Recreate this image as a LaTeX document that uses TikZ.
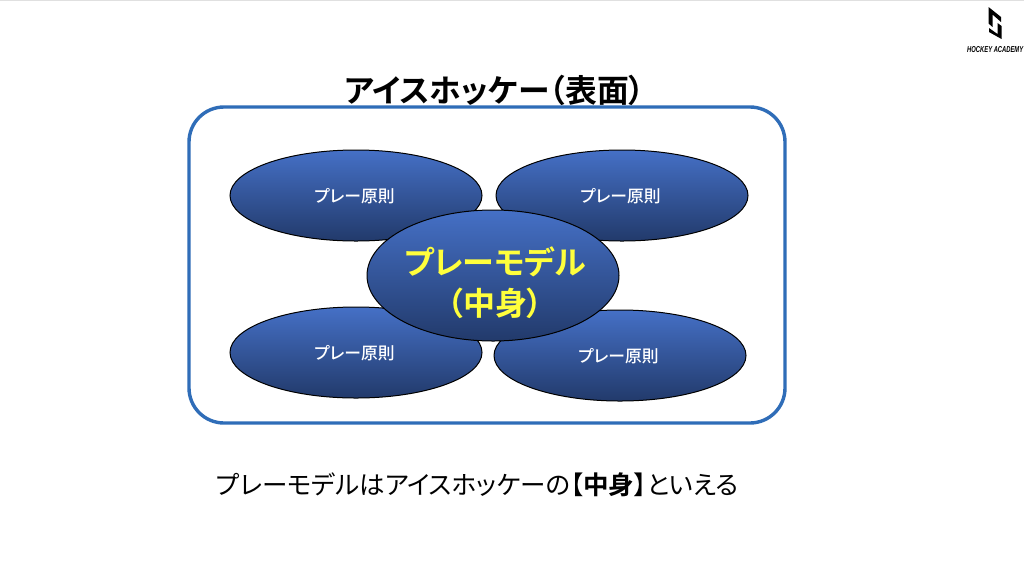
\documentclass[tikz,border=0pt]{standalone}
\usepackage{graphicx}
\usepackage{fontspec}
\setmainfont[RawFeature=+palt,BoldFont={Noto Sans CJK JP Bold}]{Noto Sans CJK JP}
\newfontfamily\medfont[RawFeature=+palt]{Noto Sans CJK JP Medium}
\newfontfamily\latinfont{Liberation Sans}
\usetikzlibrary{shapes.geometric}
\definecolor{framecol}{HTML}{2F6DB8}
\definecolor{ovaltop}{HTML}{4570C6}
\definecolor{ovalbot}{HTML}{223A6B}
\definecolor{modelyellow}{HTML}{FFFF3C}
\tikzset{
  px/.style={x=1pt,y=-1pt},
  oval/.style={ellipse,draw=black,line width=1pt,top color=ovaltop,bottom color=ovalbot,
    minimum width=252pt,minimum height=91pt,inner sep=0pt,text width=0pt,text=white,font=\medfont\fontsize{16.8}{18}\selectfont,align=center},
  bigoval/.style={oval,minimum height=131pt,text=modelyellow,font=\normalfont\bfseries\fontsize{32}{41}\selectfont},
  title/.style={inner sep=0pt,text=black,font=\bfseries\fontsize{31.8}{34}\selectfont},
  caption/.style={inner sep=0pt,text=black,font=\fontsize{25.5}{28}\selectfont},
  logotext/.style={inner sep=0pt,text=black,font=\latinfont\selectfont\bfseries\itshape}
}
\newcommand{\smalllabel}{\rule{0pt}{15pt}\hbox to 0pt{\hss プレー原則\hss\kern3pt}}
\begin{document}
\begin{tikzpicture}[px]
\useasboundingbox (0,0) rectangle (1024,574);
\fill[white] (0,0) rectangle (1024,574);
\draw[black!12,line width=0.6pt] (0,0.3) -- (1024,0.3);
\node[title] (titlenode) at (494.5,90) {アイスホッケー（表面）};
\node[draw=framecol,line width=3.4pt,rounded corners=35pt,minimum width=596pt,minimum height=316pt,inner sep=0pt] (frame) at (487,265) {};
\node[oval] (tl) at (356,195.5) {\smalllabel};
\node[oval] (tr) at (622,195.5) {\smalllabel};
\node[oval] (bl) at (356,352.5) {\smalllabel};
\node[oval] (br) at (620,355.5) {\smalllabel};
\node[bigoval] (center) at (493,275.5) {\rule{0pt}{42pt}\hbox to 0pt{\kern4pt\hss プレーモデル\hss}\\\hbox to 0pt{\kern4pt\hss（中身）\hss}};
\node[caption] (captionnode) at (477.5,485) {プレーモデルはアイスホッケーの【{\bfseries 中身}】といえる};
% logo
\fill[black] (988.5,7) -- (1001,17) -- (1001,22) -- (992.5,14.5) -- (992.5,27) -- (988.5,23.5) -- cycle;
\fill[black] (1001.5,39) -- (989,32) -- (989,28) -- (997.5,34) -- (997.5,23) -- (1001.5,26) -- cycle;
\node[logotext,anchor=west] (logolabel) at (967,50) {\resizebox{56pt}{6pt}{HOCKEY ACADEMY}};
\end{tikzpicture}
\end{document}
